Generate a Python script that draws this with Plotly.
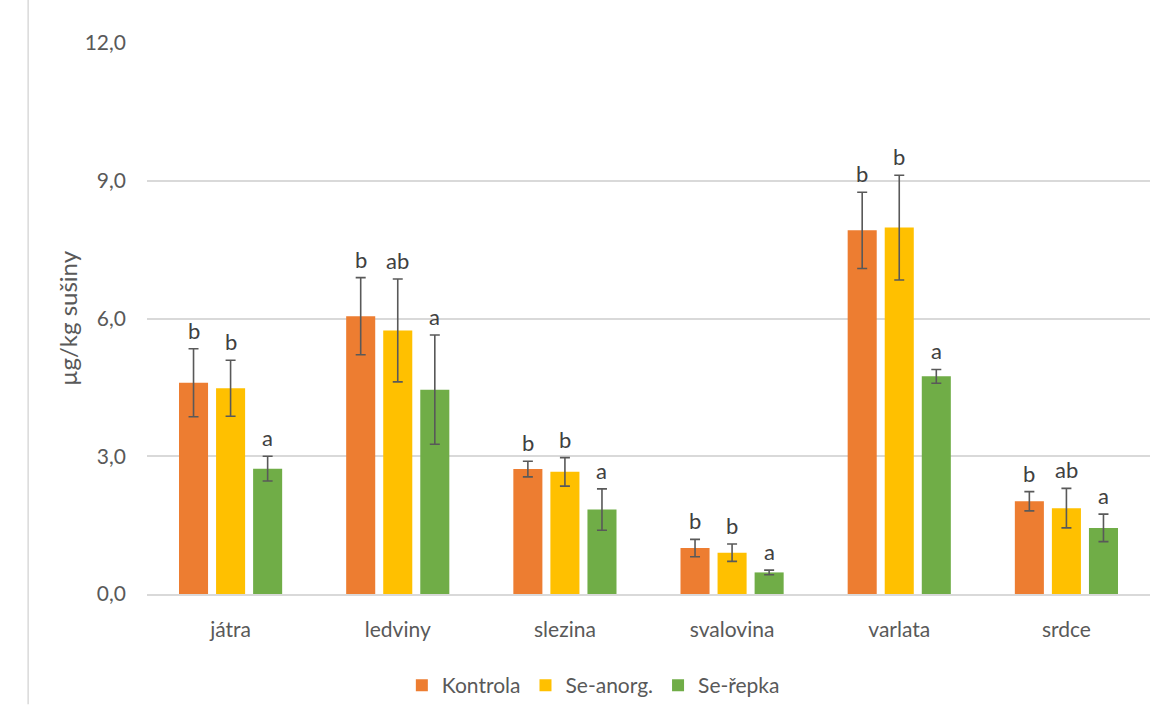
import plotly.graph_objects as go

categories = ["játra", "ledviny", "slezina", "svalovina", "varlata", "srdce"]
series_names = ["Kontrola", "Se-anorg.", "Se-řepka"]

kontrola = [4.60, 6.05, 2.72, 1.00, 7.92, 2.02]
kontrola_err = [0.74, 0.84, 0.17, 0.19, 0.83, 0.21]
kontrola_sig = ["b", "b", "b", "b", "b", "b"]

anorg = [4.48, 5.74, 2.66, 0.90, 7.98, 1.87]
anorg_err = [0.61, 1.12, 0.31, 0.19, 1.14, 0.43]
anorg_sig = ["b", "ab", "b", "b", "b", "ab"]

repka = [2.73, 4.45, 1.84, 0.47, 4.74, 1.44]
repka_err = [0.27, 1.19, 0.45, 0.05, 0.15, 0.30]
repka_sig = ["a", "a", "a", "a", "a", "a"]

colors = ["#ED7D31", "#FFC000", "#70AD47"]

values = [kontrola, anorg, repka]
errors = [kontrola_err, anorg_err, repka_err]
letters = [kontrola_sig, anorg_sig, repka_sig]

FONT = "Lato, Open Sans, sans-serif"

fig = go.Figure()
for name, vals, errs, col in zip(series_names, values, errors, colors):
    fig.add_trace(go.Bar(
        name=name,
        x=categories,
        y=vals,
        marker=dict(color=col, line=dict(width=0)),
        error_y=dict(type="data", array=errs, visible=True,
                     color="#595959", thickness=1.6, width=5),
        offsetgroup=name,
    ))

# significance letters above each error bar, placed on the grouped bar offsets
n = len(series_names)
bargap = 0.335
slot = (1 - bargap) / n
for i, (vals, errs, labs) in enumerate(zip(values, errors, letters)):
    offset = -(1 - bargap) / 2 + slot * (i + 0.5)
    for j, (v, e, lab) in enumerate(zip(vals, errs, labs)):
        fig.add_annotation(
            x=j + offset, y=v + e, xref="x", yref="y",
            text=lab, showarrow=False, yanchor="bottom", yshift=3,
            font=dict(family=FONT, size=22, color="#404040"),
        )

fig.update_layout(
    width=1168, height=711,
    barmode="group", bargap=bargap, bargroupgap=0.216,
    paper_bgcolor="white", plot_bgcolor="white",
    margin=dict(l=147, r=18, t=43, b=117, autoexpand=False),
    separators=",.",
    font=dict(family=FONT, size=21, color="#595959"),
    showlegend=True,
    legend=dict(orientation="h", x=0.508, xanchor="center",
                y=1 - 665 / 711, yanchor="top",
                xref="container", yref="container",
                font=dict(family=FONT, size=21, color="#595959"),
                itemwidth=30, traceorder="normal"),
    xaxis=dict(type="category", showgrid=False, showline=True, linecolor="#d9d9d9",
               linewidth=1.5, ticks="", tickfont=dict(size=21, color="#595959"),
               ticklabelstandoff=16),
    yaxis=dict(range=[0, 12], tick0=0, dtick=3, tickformat=".1f",
               showgrid=True, gridcolor="#d9d9d9", gridwidth=1.5,
               zeroline=False, showline=False, ticks="",
               tickfont=dict(size=21, color="#595959"), ticklabelstandoff=20,
               title=dict(text="µg/kg sušiny", standoff=0,
                          font=dict(size=24, color="#595959"))),
    shapes=[dict(type="line", xref="paper", yref="paper",
                 x0=-0.1185, x1=-0.1185, y0=-0.2, y1=1.08,
                 line=dict(color="#d9d9d9", width=1.5))],
)

fig.write_html("out.html")
